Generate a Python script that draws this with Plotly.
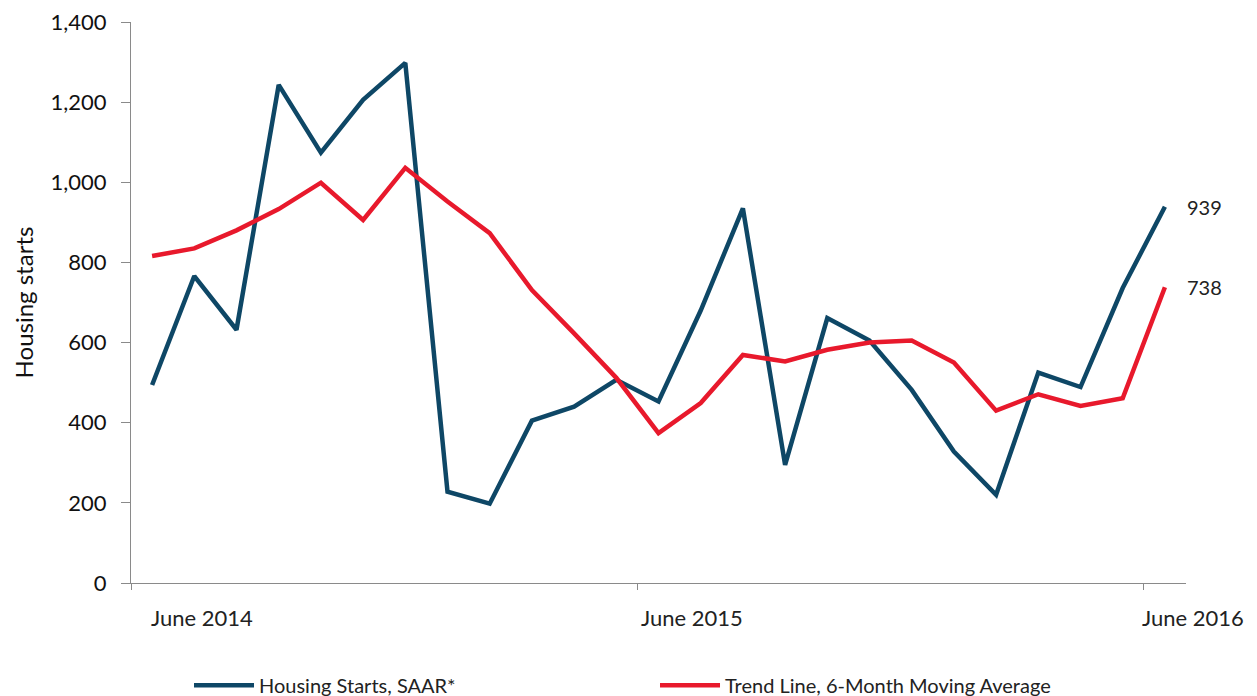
import plotly.graph_objects as go

months = list(range(25))  # June 2014 .. June 2016, monthly
housing_starts = [494, 766, 632, 1243, 1074, 1206, 1298, 228, 198, 405, 440, 507,
                  453, 680, 935, 295, 661, 605, 482, 328, 220, 525, 489, 736, 939]
trend_line = [816, 835, 880, 933, 999, 906, 1036, 952, 873, 731, 623, 512,
              374, 449, 569, 553, 582, 600, 605, 550, 430, 471, 442, 461, 738]
tick_labels = ["June 2014", "June 2015", "June 2016"]
tick_label_months = [0, 12, 24]
series_names = ["Housing Starts, SAAR*", "Trend Line, 6-Month Moving Average"]

BLUE = "#0E4766"
RED = "#E8192C"
FONT = "Lato"

fig = go.Figure()
fig.add_trace(go.Scatter(x=months, y=housing_starts, mode="lines", name=series_names[0],
                         line=dict(color=BLUE, width=4.5)))
fig.add_trace(go.Scatter(x=months, y=trend_line, mode="lines", name=series_names[1],
                         line=dict(color=RED, width=4.5)))

# end-value labels
for series in (housing_starts, trend_line):
    fig.add_annotation(x=months[-1], y=series[-1], text=f"{series[-1]:,}", showarrow=False,
                       xanchor="left", yanchor="middle", xshift=20,
                       font=dict(family=FONT, size=20, color="#222"))

# x tick labels
label_shift = [-3, -20, -25]
for m, lab, sh in zip(tick_label_months, tick_labels, label_shift):
    fig.add_annotation(x=m, y=0, yref="paper", text=lab, showarrow=False,
                       xanchor="left", yanchor="middle", xshift=sh, yshift=-34,
                       font=dict(family=FONT, size=22, color="#222"))

fig.update_layout(
    width=1257, height=696,
    margin=dict(l=123, r=79, t=14, b=121),
    paper_bgcolor="white", plot_bgcolor="white",
    font=dict(family=FONT, color="#111"),
    showlegend=True,
    legend=dict(orientation="h", xref="container", x=0.144, xanchor="left",
                yref="container", y=0.027, yanchor="middle",
                font=dict(family=FONT, size=20, color="#222"),
                itemwidth=60, entrywidthmode="pixels", entrywidth=391,
                bgcolor="rgba(0,0,0,0)"),
    xaxis=dict(range=[-0.5, 24.5], tickvals=[-0.5, 11.5, 23.5], showticklabels=False,
               ticks="outside", ticklen=6, tickcolor="#8a8a8a",
               showline=True, linecolor="#8a8a8a", linewidth=1.3,
               showgrid=False, zeroline=False, fixedrange=True, automargin=False),
    yaxis=dict(range=[0, 1400], tickvals=list(range(0, 1401, 200)), tickformat=",",
               ticks="outside", ticklen=9, tickcolor="#8a8a8a",
               showline=True, linecolor="#8a8a8a", linewidth=1.3,
               showgrid=False, zeroline=False, automargin=False,
               tickfont=dict(family=FONT, size=22, color="#111"),
               ticklabelstandoff=10, ticklabeloverflow="allow",
               title=dict(text="Housing starts", font=dict(family=FONT, size=24, color="#111"),
                          standoff=10)),
)

fig.write_html("out.html")
